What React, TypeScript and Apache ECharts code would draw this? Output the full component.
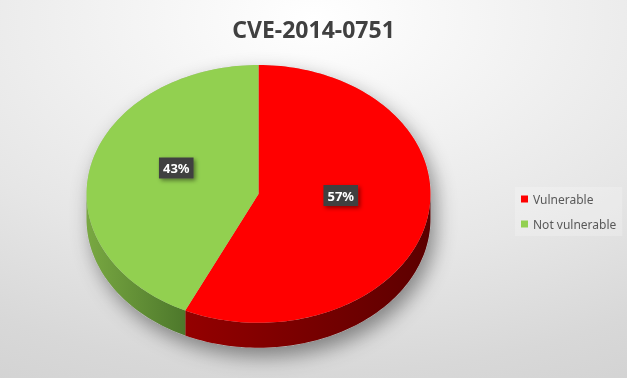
import React, { useEffect, useRef } from 'react';
import * as echarts from 'echarts';

const chartTitle = 'CVE-2014-0751';
const categories = ['Vulnerable', 'Not vulnerable'];
const values = [57, 43];
const topColors = ['#ff0000', '#92d050'];
const sideColors = [
  ['#940000', '#5c0000'],
  ['#79a842', '#4d782b'],
];

// layout (fractions of chart size)
const layout = { cx: 0.4123, cy: 0.513, rx: 0.2743, ry: 0.341, depth: 0.066 };

function pt(cx: number, cy: number, rx: number, ry: number, deg: number) {
  const r = (deg * Math.PI) / 180;
  return [cx + rx * Math.sin(r), cy - ry * Math.cos(r)];
}
function arc(cx: number, cy: number, rx: number, ry: number, a0: number, a1: number) {
  const steps = Math.max(2, Math.ceil(Math.abs(a1 - a0) / 1.5));
  const out: number[][] = [];
  for (let i = 0; i <= steps; i++) out.push(pt(cx, cy, rx, ry, a0 + ((a1 - a0) * i) / steps));
  return out;
}

export default function App() {
  const ref = useRef<HTMLDivElement>(null);
  useEffect(() => {
    if (!ref.current) return;
    const chart = echarts.init(ref.current, null, { renderer: 'svg' });
    const total = values.reduce((a, b) => a + b, 0);

    const makeRender = (idx: number) => (params: any, api: any) => {
      const w = api.getWidth();
      const h = api.getHeight();
      const cx = w * layout.cx;
      const cy = h * layout.cy;
      const rx = w * layout.rx;
      const ry = h * layout.ry;
      const d = h * layout.depth;
      let start = 0;
      for (let j = 0; j < idx; j++) start += (values[j] / total) * 360;
      const v = api.value(0);
      const end = start + (v / total) * 360;
      const children: any[] = [];
      if (idx === 0) {
        // silhouette with soft shadow
        const sil = arc(cx, cy, rx, ry, -90, 90).concat(
          arc(cx, cy + d, rx, ry, 90, 270)
        );
        children.push({
          type: 'polygon',
          silent: true,
          shape: { points: sil },
          style: {
            fill: '#bbbbbb',
            shadowBlur: 20,
            shadowColor: 'rgba(0,0,0,0.42)',
            shadowOffsetX: 5,
            shadowOffsetY: 9,
          },
        });
      }
      const s = Math.max(start, 90);
      const e = Math.min(end, 270);
      if (s < e) {
        const side = arc(cx, cy, rx, ry, s, e).concat(arc(cx, cy + d, rx, ry, e, s));
        children.push({
          type: 'polygon',
          silent: true,
          shape: { points: side },
          style: {
            fill: new echarts.graphic.LinearGradient(0, 0, 1, 0, [
              { offset: 0, color: sideColors[idx][0] },
              { offset: 1, color: sideColors[idx][1] },
            ]),
          },
        });
      }
      const top = [[cx, cy]].concat(arc(cx, cy, rx, ry, start, end));
      children.push({
        type: 'polygon',
        silent: true,
        shape: { points: top },
        style: { fill: topColors[idx] },
      });
      const mid = (start + end) / 2;
      const lp = pt(cx, cy - h * 0.032, rx * 0.49, ry * 0.49, mid);
      children.push({
        type: 'text',
        silent: true,
        x: lp[0],
        y: lp[1],
        style: {
          text: Math.round((v / total) * 100) + '%',
          align: 'center',
          verticalAlign: 'middle',
          fill: '#ffffff',
          font: 'bold 13px "Noto Sans"',
          backgroundColor: '#404040',
          padding: [4, 4, 4, 4],
          shadowBlur: 4,
          shadowColor: 'rgba(0,0,0,0.45)',
          shadowOffsetX: 2,
          shadowOffsetY: 2,
        },
      });
      return { type: 'group', children };
    };

    chart.setOption({
      animation: false,
      backgroundColor: {
        type: 'radial',
        x: 0.5,
        y: 0.05,
        r: 1.3,
        colorStops: [
          { offset: 0, color: '#ffffff' },
          { offset: 0.5, color: '#e6e6e6' },
          { offset: 0.72, color: '#d8d8d8' },
          { offset: 1, color: '#cccccc' },
        ],
      },
      title: {
        text: chartTitle,
        left: 'center',
        top: 12,
        textStyle: { fontSize: 23, fontWeight: 'bold', color: '#404040', fontFamily: 'Noto Sans' },
      },
      legend: {
        orient: 'vertical',
        left: 515,
        top: 187,
        data: categories,
        icon: 'rect',
        itemWidth: 7,
        itemHeight: 7,
        itemGap: 13,
        padding: [6, 6, 6, 6],
        backgroundColor: 'rgba(255,255,255,0.22)',
        textStyle: { color: '#595959', fontSize: 12, fontFamily: 'Noto Sans' },
      },
      series: categories.map((name, i) => ({
        type: 'custom',
        name,
        coordinateSystem: 'none',
        itemStyle: { color: topColors[i] },
        data: [[values[i]]],
        renderItem: makeRender(i),
      })),
    });
    return () => chart.dispose();
  }, []);
  return <div ref={ref} style={{ position: 'fixed', left: 0, top: 0, width: 627, height: 378 }} />;
}
